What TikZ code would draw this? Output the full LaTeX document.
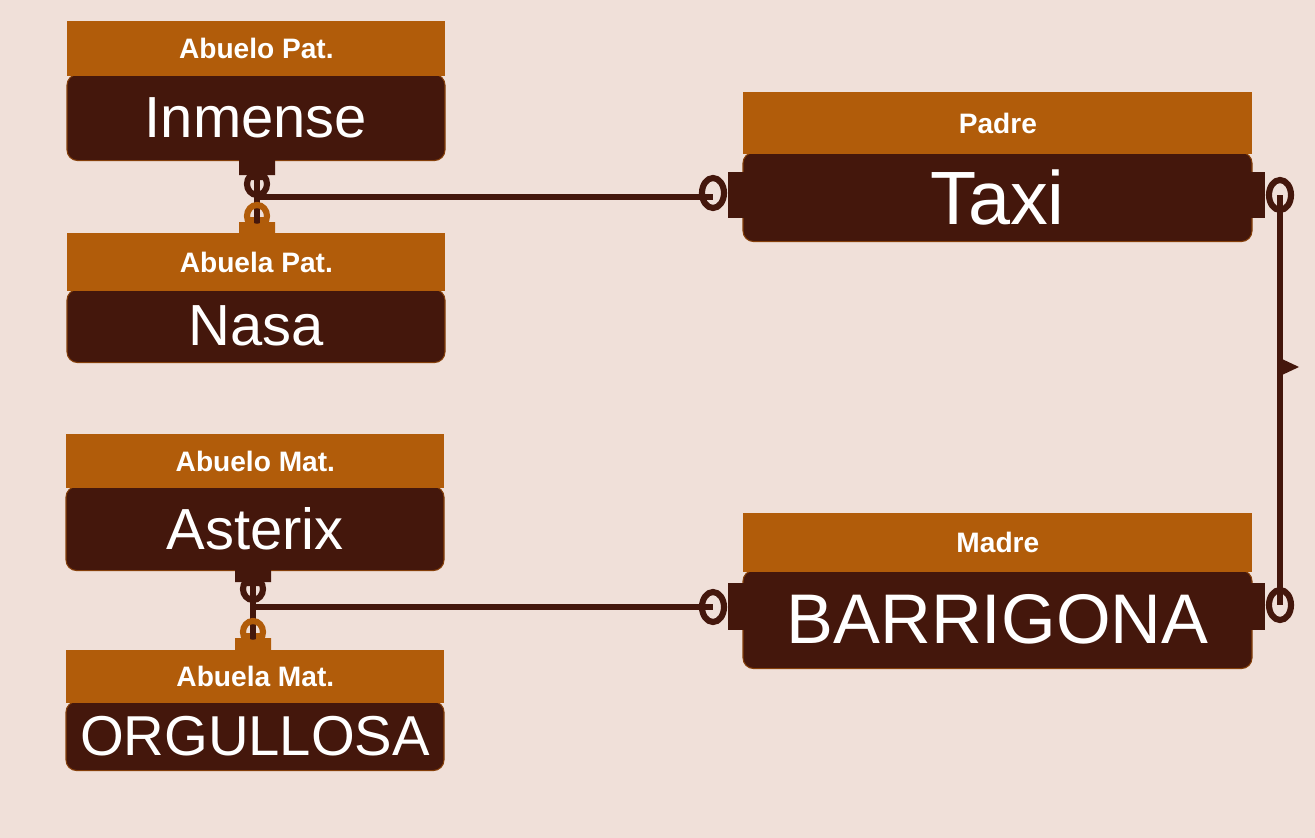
\documentclass[tikz,border=0pt]{standalone}
\usepackage{fontspec}
\setmainfont{Liberation Sans}
\usetikzlibrary{positioning}
\definecolor{bg}{HTML}{F0E0D9}
\definecolor{hdr}{HTML}{B15C0A}
\definecolor{bdy}{HTML}{44170C}
\tikzset{
  hdrbox/.style={fill=hdr,text=white,font=\bfseries\fontsize{16}{18}\selectfont,minimum height=#1,inner sep=0pt,anchor=north west},
  bdybox/.style={fill=bdy,text=white,rounded corners=6pt,minimum height=#1,inner sep=0pt,anchor=north,draw=hdr!60!bdy,line width=0.6pt},
  link/.style={draw=bdy,line width=3pt},
  ring/.style={draw=#1,line width=3.5pt,fill=none},
}
\begin{document}
\begin{tikzpicture}[x=0.02cm,y=-0.02cm]
\useasboundingbox[fill=bg] (0,0) rectangle (1315,838);
% paternal side
\node[bdybox=86*0.02cm,minimum width=378*0.02cm,font=\fontsize{33}{36}\selectfont] (inm) at (256,74) {Inmense};
\node[hdrbox=55*0.02cm,minimum width=378*0.02cm] (hinm) at (67,21) {Abuelo Pat.};
\node[bdybox=73*0.02cm,minimum width=378*0.02cm,font=\fontsize{33}{36}\selectfont] (nasa) at (256,289) {Nasa};
\node[hdrbox=58*0.02cm,minimum width=378*0.02cm] (hnasa) at (67,233) {Abuela Pat.};
% maternal side
\node[bdybox=84*0.02cm,minimum width=378*0.02cm,font=\fontsize{33}{36}\selectfont] (ast) at (255,486) {Asterix};
\node[hdrbox=54*0.02cm,minimum width=378*0.02cm] (hast) at (66,434) {Abuelo Mat.};
\node[bdybox=69*0.02cm,minimum width=378*0.02cm,font=\fontsize{32}{35}\selectfont] (org) at (255,701) {ORGULLOSA};
\node[hdrbox=53*0.02cm,minimum width=378*0.02cm] (horg) at (66,650) {Abuela Mat.};
% parents
\node[bdybox=89*0.02cm,minimum width=509*0.02cm,font=\fontsize{43}{46}\selectfont] (taxi) at (997.5,152) {Taxi};
\node[hdrbox=62*0.02cm,minimum width=509*0.02cm] (htaxi) at (743,92) {Padre};
\node[bdybox=98*0.02cm,minimum width=509*0.02cm,font=\fontsize{40}{44}\selectfont] (bar) at (997.5,570) {BARRIGONA};
\node[hdrbox=59*0.02cm,minimum width=509*0.02cm] (hbar) at (743,513) {Madre};
% connector end points
\coordinate (p1) at (257,197);
\coordinate (p2) at (713,197);
\coordinate (m1) at (253,607);
\coordinate (m2) at (713,607);
\coordinate (t1) at (1280,195);
\coordinate (t2) at (1280,605);
% tabs
\fill[bdy] (239,160) rectangle (275,175) (247,175) rectangle (267,180);
\fill[hdr] (239,222) rectangle (275,235) (247,217) rectangle (267,222);
\fill[bdy] (235,568) rectangle (271,582) (243,582) rectangle (263,586);
\fill[hdr] (235,638) rectangle (271,652) (243,633) rectangle (263,638);
\fill[bdy] (728,172) rectangle (745,218);
\fill[bdy] (728,583) rectangle (745,630);
\fill[bdy] (1250,172) rectangle (1265,218);
\fill[bdy] (1250,583) rectangle (1265,630);
% links
\draw[link] (257,178) -- (p1) -- (257,228);
\draw[link] (p1) -- (p2);
\draw[link] (253,584) -- (m1) -- (253,640);
\draw[link] (m1) -- (m2);
\draw[link] (t1) -- (t2);
\fill[bdy] (1282,359) -- (1299,367) -- (1282,375) -- cycle;
% rings
\draw[ring=bdy] (257,184) ellipse (10 and 11);
\draw[ring=hdr] (257,216) ellipse (10 and 11);
\draw[ring=bdy] (253,589) ellipse (10 and 11);
\draw[ring=hdr] (253,632) ellipse (10 and 11);
\draw[ring=bdy] (713,193) ellipse (11 and 15);
\draw[ring=bdy] (713,607) ellipse (11 and 15);
\draw[ring=bdy] (1280,195) ellipse (11 and 15);
\draw[ring=bdy] (1280,605) ellipse (11 and 15);
\end{tikzpicture}
\end{document}
